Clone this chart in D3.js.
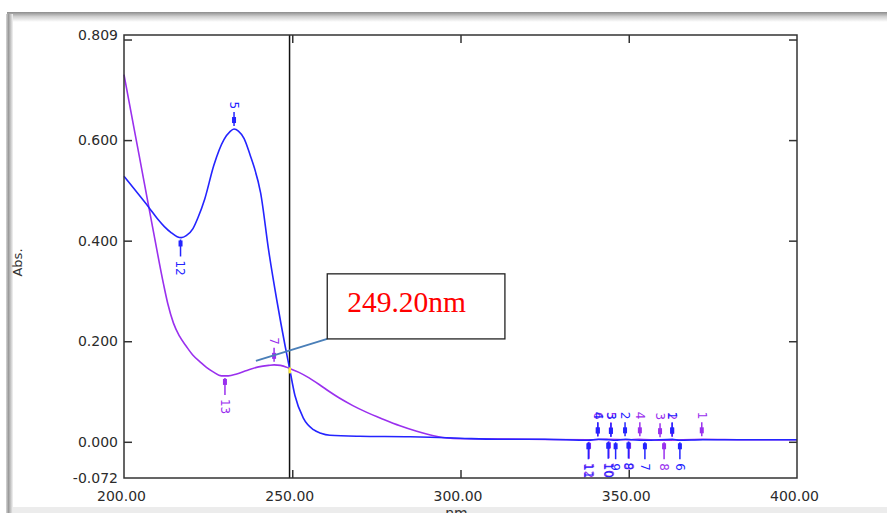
<!DOCTYPE html>
<html>
<head>
<meta charset="utf-8">
<title>Spectrum</title>
<style>
  body { margin: 0; background: #fff; overflow: hidden; }
  svg { display: block; }
  .axis text { font-family: 'DejaVu Sans', sans-serif; font-size: 14px; fill: #2b2b2b; }
  .axis path, .axis line { stroke: #333; }
  .pk { font-family: 'DejaVu Sans', sans-serif; font-size: 12px; }
</style>
<script src="https://cdnjs.cloudflare.com/ajax/libs/d3/7.8.5/d3.min.js"></script>
</head>
<body>
<div id="chart"></div>
<script>
// --- data ---
const wlBlue  = [200, 203, 207.4, 210, 212, 214, 215.8, 217, 218.5, 220.5, 222, 224, 226.7, 229.7, 231.5, 232.7, 234, 235.7, 237.5, 238.6, 240.6, 243, 245.4, 247.9, 249.2, 250.8, 253.3, 256.3, 258.5, 261.2, 270, 285, 291, 300, 311, 325, 338, 341, 344, 346, 349, 351, 355, 363, 365, 372, 385, 400];
const absBlue = [0.528, 0.503, 0.466, 0.443, 0.428, 0.416, 0.408, 0.406, 0.410, 0.424, 0.446, 0.483, 0.550, 0.601, 0.617, 0.622, 0.618, 0.603, 0.570, 0.548, 0.495, 0.380, 0.282, 0.190, 0.146, 0.092, 0.047, 0.024, 0.017, 0.013, 0.011, 0.010, 0.009, 0.007, 0.005, 0.005, 0.003, 0.005, 0.004, 0.003, 0.005, 0.004, 0.003, 0.005, 0.003, 0.004, 0.004, 0.004];

const wlPurple  = [200, 203, 206, 209, 211.7, 213, 214.7, 216.5, 218.6, 220.5, 222.6, 224.5, 226.5, 229, 231, 233.5, 236.5, 240, 243, 244.6, 246.5, 249.2, 252, 255, 258, 261, 264, 268, 272, 277, 282, 287, 292, 297, 302, 320, 338, 344, 350, 353, 360, 372, 385, 400];
const absPurple = [0.730, 0.623, 0.516, 0.409, 0.315, 0.275, 0.236, 0.210, 0.189, 0.172, 0.159, 0.148, 0.139, 0.131, 0.131, 0.135, 0.142, 0.149, 0.152, 0.153, 0.152, 0.146, 0.138, 0.127, 0.114, 0.100, 0.087, 0.072, 0.059, 0.045, 0.032, 0.021, 0.012, 0.007, 0.006, 0.005, 0.004, 0.005, 0.004, 0.005, 0.003, 0.005, 0.004, 0.004];

// peak (up) and valley (down) picks: wavelength, series, label
const peaks = [
  { wl: 232.7, s: 'blue', label: '5' },
  { wl: 244.6, s: 'purple', label: '7' },
  { wl: 340.8, s: 'purple', label: '6' },
  { wl: 340.8, s: 'blue', label: '4' },
  { wl: 344.7, s: 'purple', label: '5' },
  { wl: 344.7, s: 'blue', label: '3' },
  { wl: 348.9, s: 'blue', label: '2' },
  { wl: 353.3, s: 'purple', label: '4' },
  { wl: 359.3, s: 'purple', label: '3' },
  { wl: 362.9, s: 'purple', label: '2' },
  { wl: 362.9, s: 'blue', label: '1' },
  { wl: 371.7, s: 'purple', label: '1' }
];
const valleys = [
  { wl: 216.8, s: 'blue', label: '12' },
  { wl: 230.0, s: 'purple', label: '13' },
  { wl: 338.2, s: 'purple', label: '12' },
  { wl: 338.0, s: 'blue', label: '11' },
  { wl: 344.1, s: 'purple', label: '10' },
  { wl: 343.9, s: 'blue', label: '10' },
  { wl: 346.1, s: 'blue', label: '9' },
  { wl: 350.1, s: 'purple', label: '9' },
  { wl: 349.9, s: 'blue', label: '8' },
  { wl: 354.8, s: 'blue', label: '7' },
  { wl: 360.5, s: 'purple', label: '8' },
  { wl: 365.2, s: 'blue', label: '6' }
];

const xTickVals = [250, 300, 350];
const xLabelVals = [200, 250, 300, 350, 400];
const yTickVals = [0.8, 0.6, 0.4, 0.2, 0.0];
const yLabelVals = [0.809, 0.6, 0.4, 0.2, 0.0, -0.072];

const cursorWl = 249.2;
const cursorText = '249.20nm';
const boxWl = [260.4, 313.2];
const boxAbs = [0.2046, 0.334];
const leaderFrom = [239.2, 0.161];

const colors = { blue: '#2424ff', purple: '#9a30ee' };

// --- layout ---
const W = 887, H = 513;
const m = { left: 124, right: 797, top: 35, bottom: 478 };

const svg = d3.select('#chart').append('svg').attr('width', W).attr('height', H);

const defs = svg.append('defs');
const gTop = defs.append('linearGradient').attr('id', 'gTop').attr('x1', 0).attr('y1', 0).attr('x2', 0).attr('y2', 1);
gTop.append('stop').attr('offset', '0%').attr('stop-color', '#8c8c8c');
gTop.append('stop').attr('offset', '45%').attr('stop-color', '#cfcfcf');
gTop.append('stop').attr('offset', '100%').attr('stop-color', '#ffffff');
const gLeft = defs.append('linearGradient').attr('id', 'gLeft').attr('x1', 0).attr('y1', 0).attr('x2', 1).attr('y2', 0);
gLeft.append('stop').attr('offset', '0%').attr('stop-color', '#d8d8d8');
gLeft.append('stop').attr('offset', '35%').attr('stop-color', '#9a9a9a');
gLeft.append('stop').attr('offset', '100%').attr('stop-color', '#f4f4f4');

// window frame
svg.append('rect').attr('x', 7).attr('y', 12).attr('width', W - 7).attr('height', 10).attr('fill', 'url(#gTop)');
svg.append('rect').attr('x', 6).attr('y', 14).attr('width', 7).attr('height', H - 14).attr('fill', 'url(#gLeft)');
svg.append('rect').attr('x', 13).attr('y', 507).attr('width', W - 13).attr('height', 6).attr('fill', '#ececec');

const x = d3.scaleLinear().domain([200, 400]).range([m.left, m.right]);
const y = d3.scaleLinear().domain([-0.072, 0.809]).range([m.bottom, m.top]);

svg.append('rect')
  .attr('x', m.left).attr('y', m.top)
  .attr('width', m.right - m.left).attr('height', m.bottom - m.top)
  .attr('fill', '#fff');

// inward ticks
const tk = 8;
svg.append('g').attr('class', 'axis').attr('transform', `translate(${m.left},0)`)
  .call(d3.axisRight(y).tickValues(yTickVals).tickSize(tk).tickFormat(''))
  .call(g => g.select('.domain').remove());
svg.append('g').attr('class', 'axis').attr('transform', `translate(${m.right},0)`)
  .call(d3.axisLeft(y).tickValues(yTickVals).tickSize(tk).tickFormat(''))
  .call(g => g.select('.domain').remove());
svg.append('g').attr('class', 'axis').attr('transform', `translate(0,${m.bottom})`)
  .call(d3.axisTop(x).tickValues(xTickVals).tickSize(tk).tickFormat(''))
  .call(g => g.select('.domain').remove());
svg.append('g').attr('class', 'axis').attr('transform', `translate(0,${m.top})`)
  .call(d3.axisBottom(x).tickValues(xTickVals).tickSize(tk).tickFormat(''))
  .call(g => g.select('.domain').remove());
svg.selectAll('.axis line').attr('stroke-width', 1.5);

// labels
svg.append('g').attr('class', 'axis').attr('transform', `translate(${m.left},0)`)
  .call(d3.axisLeft(y).tickValues(yLabelVals).tickSize(0).tickPadding(6).tickFormat(d => d.toFixed(3)))
  .call(g => g.select('.domain').remove());
svg.append('g').attr('class', 'axis').attr('transform', `translate(-3,${m.bottom})`)
  .call(d3.axisBottom(x).tickValues(xLabelVals).tickSize(0).tickPadding(13.5).tickFormat(d => d.toFixed(2)))
  .call(g => g.select('.domain').remove());

svg.append('text')
  .attr('transform', `translate(22,${(m.top + m.bottom) / 2 + 6}) rotate(-90)`)
  .attr('text-anchor', 'middle')
  .style('font-family', "'DejaVu Sans', sans-serif").style('font-size', '13px').attr('fill', '#333')
  .text('Abs.');
svg.append('text')
  .attr('x', x(300) - 4).attr('y', 518)
  .attr('text-anchor', 'middle')
  .style('font-family', "'DejaVu Sans', sans-serif").style('font-size', '14px').attr('fill', '#333')
  .text('nm');

// cursor line
svg.append('line')
  .attr('x1', x(cursorWl)).attr('x2', x(cursorWl))
  .attr('y1', m.top).attr('y2', m.bottom)
  .attr('stroke', '#111').attr('stroke-width', 1.5);

// curves
const line = d3.line().x(d => x(d[0])).y(d => y(d[1])).curve(d3.curveMonotoneX);
const series = {
  purple: d3.zip(wlPurple, absPurple),
  blue: d3.zip(wlBlue, absBlue)
};
['purple', 'blue'].forEach(s => {
  svg.append('path').datum(series[s])
    .attr('d', line)
    .attr('fill', 'none')
    .attr('stroke', colors[s])
    .attr('stroke-width', 1.6);
});

// crossing point
const crossAbs = d3.scaleLinear().domain(wlPurple.slice(21, 23)).range(absPurple.slice(21, 23))(cursorWl);
svg.append('rect')
  .attr('x', x(cursorWl) - 1).attr('y', y(crossAbs) - 1)
  .attr('width', 2.5).attr('height', 6).attr('fill', '#ffee33');

// peak / valley picks
function valueAt(s, wl) {
  const xs = s === 'blue' ? wlBlue : wlPurple;
  const ys = s === 'blue' ? absBlue : absPurple;
  return d3.scaleLinear().domain(xs).range(ys)(wl);
}
function pick(d, dir) {
  const cx = x(d.wl), cy = y(valueAt(d.s, d.wl));
  const g = svg.append('g').attr('fill', colors[d.s]).attr('stroke', colors[d.s]);
  if (dir < 0) {
    g.append('line').attr('x1', cx).attr('x2', cx).attr('y1', cy - 17).attr('y2', cy - 3).attr('stroke-width', 1.5);
    g.append('rect').attr('x', cx - 2).attr('y', cy - 12).attr('width', 4).attr('height', 6).attr('stroke', 'none');
    g.append('text').attr('class', 'pk').attr('stroke', 'none')
      .attr('transform', `translate(${cx},${cy - 20}) rotate(90)`)
      .attr('text-anchor', 'end').attr('dy', '0.35em').text(d.label);
  } else {
    g.append('line').attr('x1', cx).attr('x2', cx).attr('y1', cy + 2).attr('y2', cy + 19).attr('stroke-width', 1.5);
    g.append('rect').attr('x', cx - 2).attr('y', cy + 3).attr('width', 4).attr('height', 6).attr('stroke', 'none');
    g.append('text').attr('class', 'pk').attr('stroke', 'none')
      .attr('transform', `translate(${cx},${cy + 23}) rotate(90)`)
      .attr('text-anchor', 'start').attr('dy', '0.35em').text(d.label);
  }
}
peaks.forEach(d => pick(d, -1));
valleys.forEach(d => pick(d, 1));

// plot frame
svg.append('rect')
  .attr('x', m.left).attr('y', m.top)
  .attr('width', m.right - m.left).attr('height', m.bottom - m.top)
  .attr('fill', 'none').attr('stroke', '#333').attr('stroke-width', 1.5);

// annotation
svg.append('line')
  .attr('x1', x(leaderFrom[0])).attr('y1', y(leaderFrom[1]))
  .attr('x2', x(boxWl[0])).attr('y2', y(boxAbs[0]))
  .attr('stroke', '#4a7fb8').attr('stroke-width', 2);
svg.append('rect')
  .attr('x', x(boxWl[0])).attr('y', y(boxAbs[1]))
  .attr('width', x(boxWl[1]) - x(boxWl[0])).attr('height', y(boxAbs[0]) - y(boxAbs[1]))
  .attr('fill', '#fff').attr('stroke', '#222').attr('stroke-width', 1.3);
svg.append('text')
  .attr('x', x(boxWl[0]) + 20).attr('y', y(boxAbs[1]) + 38)
  .style('font-family', "'Liberation Serif', 'Times New Roman', serif")
  .style('font-size', '29.5px').attr('fill', '#ff0000')
  .text(cursorText);
</script>
</body>
</html>
